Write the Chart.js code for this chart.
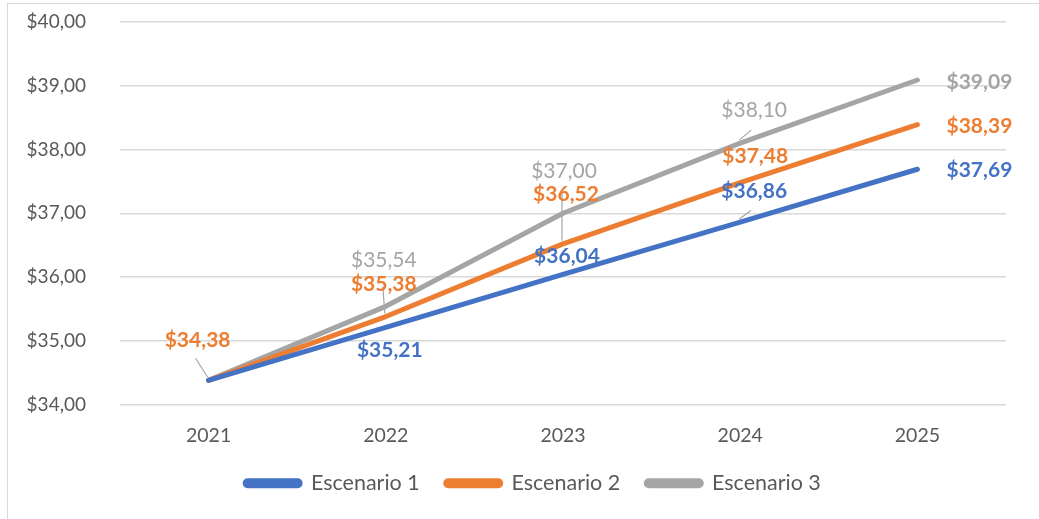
<!DOCTYPE html>
<html>
<head>
<meta charset="utf-8">
<script src="https://cdn.jsdelivr.net/npm/chart.js@4.4.1/dist/chart.umd.min.js"></script>
<style>
  html, body { margin: 0; padding: 0; background: #fff; }
  #wrap { position: relative; width: 1039px; height: 519px; overflow: hidden; }
  #frame { position: absolute; left: 7px; top: 3px; width: 1100px; height: 600px;
           border-left: 1.5px solid #D9D9D9; border-top: 1.5px solid #D9D9D9; }
  canvas { position: absolute; left: 0; top: 0; }
</style>
</head>
<body>
<div id="wrap">
  <div id="frame"></div>
  <canvas id="c" width="1039" height="519"></canvas>
</div>
<script>
const categories = ['2021', '2022', '2023', '2024', '2025'];
const seriesNames = ['Escenario 1', 'Escenario 2', 'Escenario 3'];
const escenario1 = [34.38, 35.21, 36.04, 36.86, 37.69];
const escenario2 = [34.38, 35.38, 36.52, 37.48, 38.39];
const escenario3 = [34.38, 35.54, 37.00, 38.10, 39.09];
const yMin = 34, yMax = 40, yStep = 1;

const colors = ['#4472C4', '#ED7D31', '#A5A5A5'];
const FONT = 'Lato, "Noto Sans", sans-serif';

function money(v) { return '$' + v.toFixed(2).replace('.', ','); }

// label placement (offset from point, in px), leader lines, weights
const labelLayout = [
  [null, {dx: 4, dy: 23}, {dx: 4, dy: -18}, {dx: 14, dy: -31, leader: [-3, 19]}, {dx: 62, dy: 1}],
  [{dx: -11, dy: -40, leader: [-2, 18]}, {dx: -2, dy: -32, leader: [-1, 2]}, {dx: 3, dy: -50, leader: [-4, -1]}, {dx: 15, dy: -26}, {dx: 62, dy: 2}],
  [null, {dx: -2, dy: -46, normal: true}, {dx: 1, dy: -42, normal: true}, {dx: 14, dy: -33, normal: true, leader: [-3, 20]}, {dx: 62, dy: 2}]
];

const labelPlugin = {
  id: 'pointLabels',
  afterLayout(chart) {
    if (chart.legend) { chart.legend.left += 30; chart.legend.right += 30; }
  },
  afterDatasetsDraw(chart) {
    const ctx = chart.ctx;
    ctx.save();
    chart.data.datasets.forEach((ds, di) => {
      const meta = chart.getDatasetMeta(di);
      meta.data.forEach((pt, i) => {
        const L = labelLayout[di][i];
        if (!L || !L.leader) return;
        const cx = pt.x + L.dx, cy = pt.y + L.dy;
        ctx.beginPath();
        ctx.strokeStyle = '#A6A6A6';
        ctx.lineWidth = 1.2;
        ctx.moveTo(cx + L.leader[0], cy + L.leader[1]);
        ctx.lineTo(pt.x - 1, pt.y - 3);
        ctx.stroke();
      });
    });
    chart.data.datasets.forEach((ds, di) => {
      const meta = chart.getDatasetMeta(di);
      meta.data.forEach((pt, i) => {
        const L = labelLayout[di][i];
        if (!L) return;
        ctx.font = (L.normal ? 'normal ' : 'bold ') + '21px ' + FONT;
        ctx.fillStyle = colors[di];
        ctx.textAlign = 'center';
        ctx.textBaseline = 'middle';
        ctx.fillText(money(ds.data[i]), pt.x + L.dx, pt.y + L.dy);
      });
    });
    ctx.restore();
  }
};

const datasets = [escenario1, escenario2, escenario3].map((d, i) => ({
  label: seriesNames[i],
  data: d,
  borderColor: colors[i],
  backgroundColor: colors[i],
  borderWidth: 5,
  borderCapStyle: 'round',
  borderJoinStyle: 'round',
  pointRadius: 0,
  tension: 0
}));

new Chart(document.getElementById('c'), {
  type: 'line',
  data: { labels: categories, datasets },
  options: {
    responsive: false,
    animation: false,
    layout: { padding: { left: 0, right: 33, top: 22, bottom: 15 } },
    plugins: {
      legend: {
        position: 'bottom',
        labels: {
          font: { family: FONT, size: 21.5 },
          color: '#595959',
          boxWidth: 55,
          boxHeight: 5,
          useBorderRadius: true,
          borderRadius: 2.5,
          padding: 26
        }
      },
      tooltip: { enabled: false }
    },
    scales: {
      x: {
        offset: true,
        grid: { display: false, drawTicks: false },
        border: { display: false },
        ticks: { font: { family: FONT, size: 19.5 }, color: '#595959', padding: 20 },
        afterFit(s) { s.height = 42; }
      },
      y: {
        min: yMin, max: yMax,
        grid: { color: '#D9D9D9', lineWidth: 1.5, drawTicks: false },
        border: { display: false },
        ticks: {
          stepSize: yStep,
          font: { family: FONT, size: 19 },
          color: '#595959',
          padding: 34,
          callback: v => money(v)
        },
        afterFit(s) { s.width = 120; s.paddingTop = 0; s.paddingBottom = 0; }
      }
    }
  },
  plugins: [labelPlugin]
});
</script>
</body>
</html>
